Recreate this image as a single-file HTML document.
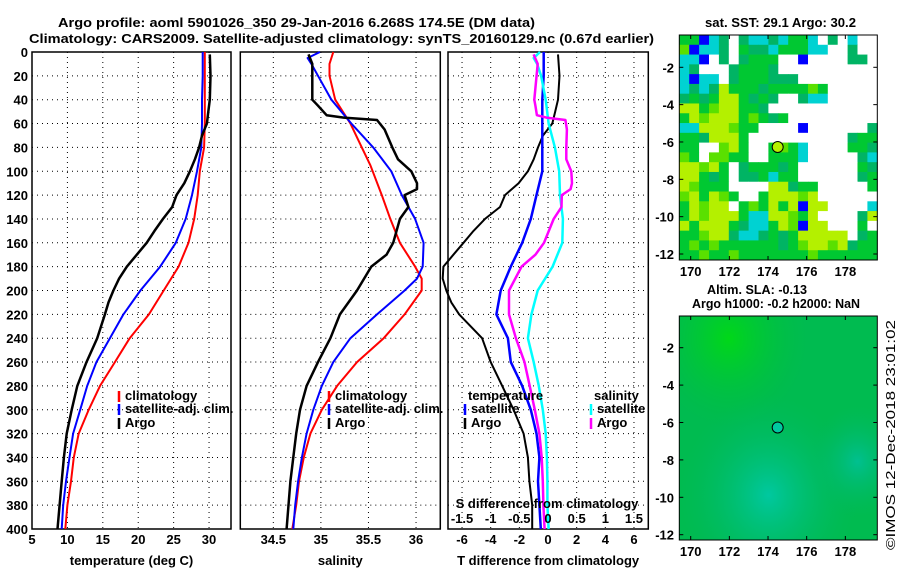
<!DOCTYPE html>
<html><head><meta charset="utf-8"><style>
html,body{margin:0;padding:0;background:#fff;}
svg{display:block;font-family:"Liberation Sans",sans-serif;}
text{font-weight:bold;font-size:13px;fill:#000;}
</style></head><body>
<svg id="chart" width="900" height="580" viewBox="0 0 900 580" xmlns="http://www.w3.org/2000/svg">
<text x="58" y="27" textLength="477" lengthAdjust="spacingAndGlyphs" font-size="15">Argo profile: aoml 5901026_350 29-Jan-2016 6.268S 174.5E (DM data)</text>
<text x="29" y="43" textLength="625" lengthAdjust="spacingAndGlyphs" font-size="15">Climatology: CARS2009. Satellite-adjusted climatology: synTS_20160129.nc (0.67d earlier)</text>
<text x="705" y="27" textLength="151" lengthAdjust="spacingAndGlyphs" font-size="13">sat. SST: 29.1 Argo: 30.2</text>
<text x="707" y="294" textLength="100" lengthAdjust="spacingAndGlyphs" font-size="12">Altim. SLA: -0.13</text>
<text x="692" y="308" textLength="168" lengthAdjust="spacingAndGlyphs" font-size="12">Argo h1000: -0.2 h2000: NaN</text>
<text transform="translate(895,550) rotate(-90)" font-size="12" textLength="230" lengthAdjust="spacingAndGlyphs" style="font-weight:normal">©IMOS 12-Dec-2018 23:01:02</text>
<g id="panels"></g>
</svg>
<script>
// ---------- DATA ----------
const tClimDepth = [0,20,40,60,80,100,120,140,160,180,200,220,240,260,280,300,320,340,360,380,400];
const tClimVal   = [29.4,29.4,29.4,29.4,29.3,28.7,28.4,27.9,27.1,25.7,23.6,21.5,18.8,16.7,14.6,13.0,11.6,10.9,10.5,10.0,9.7];
const tSatDepth  = [0,20,40,60,80,100,120,140,160,180,200,220,240,260,280,300,320,340,360,380,400];
const tSatVal    = [29.1,29.1,29.0,29.0,28.9,28.3,27.6,26.7,25.3,23.1,20.3,17.9,16.0,14.1,12.8,11.8,10.8,10.3,9.8,9.4,9.2];
const tArgoDepth = [2,20,40,50,60,70,80,90,100,110,120,130,140,150,160,170,180,190,200,210,220,240,260,280,300,320,340,360,380,400];
const tArgoVal   = [30.1,30.2,30.1,29.9,29.7,29.0,28.6,28.0,27.3,26.5,25.4,24.8,23.5,22.3,21.2,19.8,18.4,17.3,16.5,15.8,15.3,14.2,12.7,11.4,10.6,9.9,9.5,9.2,8.9,8.6];

const sClimDepth = [0,10,20,40,60,80,95,120,140,160,180,190,200,220,240,260,280,300,320,340,360,380,400];
const sClimVal   = [35.13,35.09,35.09,35.15,35.31,35.43,35.52,35.64,35.73,35.83,35.99,36.06,36.06,35.88,35.66,35.38,35.17,35.01,34.89,34.82,34.77,34.74,34.70];
const sSatDepth  = [0,5,10,20,40,60,80,100,120,140,160,180,190,200,220,240,260,280,300,320,340,360,380,400];
const sSatVal    = [34.99,34.86,34.90,34.97,35.11,35.32,35.55,35.74,35.85,35.99,36.08,36.07,36.01,35.88,35.59,35.31,35.13,35.01,34.92,34.85,34.80,34.76,34.73,34.71];
const sArgoDepth = [2,10,40,45,53,55,57,65,80,90,100,110,115,120,130,140,160,170,180,200,220,240,260,280,300,320,340,360,380,400];
const sArgoVal   = [34.87,34.91,34.91,34.97,35.06,35.24,35.59,35.67,35.75,35.81,35.95,36.01,36.01,35.88,35.92,35.83,35.76,35.69,35.53,35.38,35.20,35.10,34.97,34.85,34.78,34.74,34.71,34.68,34.66,34.64];

const depthTicks = [0,20,40,60,80,100,120,140,160,180,200,220,240,260,280,300,320,340,360,380,400];
const tempTicks = [5,10,15,20,25,30];
const salTicks = [34.5,35,35.5,36];
const tdiffTicks = [-6,-4,-2,0,2,4,6];
const sdiffTicks = [-1.5,-1,-0.5,0,0.5,1,1.5];
const mapLonTicks = [170,172,174,176,178];
const mapLatTicks = [-2,-4,-6,-8,-10,-12];
const argoLon = 174.5, argoLat = -6.268;

// SST map cells (W white, G green, D teal-green, Y yellow, L lime, C cyan, B blue)
const sstRows = [
"GGBCDWDCCDCGGCWDWCWW","LBCCDWGDDCGGGCCWWDWW","CCBWDWDGGGWWBWWWWDDW","CDWWWDGGGDWWWWWWWWWW",
"CBCCWDGGGDDDWWWWWWWW","CDCDYGGGDGGGGLGWWWWW","DGDGYYGDGDWWDCCWWWWW","YYGLYYGGDWWWWWWWWWWW",
"GYLYYYGLGDGWWWWWWWWW","CCYYYLGGWWWWBWWWWWWD","GGDYYYGWWWWWWWWWWDGG","GGWWLYGWWGLGCWWWWGGD",
"LGWLLGGWWGGGCWWWWWDC","YYLYGWDGGGDGWWWWWWGD","YYGDGWDDGCGGWWWWWWDG","YLGGGWWWWYYDGGWWWWWG",
"LYGYLGWWGYYYLYWWWWWW","GYLYYWGLGYGYBYYWWWWC","GYLYYYGCCYYLGYWWWWDY","YGYYYGDCCGYLBYYWWWGW",
"GGLYYDCCDGDGYYYYYWDG","GLGLGGGGGGDGLYYLYDGG","GGLGGLGGGGGGGLGGGGGG"];
const sstColors = {W:"#ffffff",G:"#00c832",D:"#00b464",Y:"#b4f000",L:"#5ae000",C:"#00d2d2",B:"#0000ff"};

// ---------- DRAW ----------
const NS="http://www.w3.org/2000/svg";
const root=document.getElementById('panels');
function el(tag,attrs,parent){const e=document.createElementNS(NS,tag);for(const k in attrs)e.setAttribute(k,attrs[k]);(parent||root).appendChild(e);return e;}
function txt(x,y,s,anchor,parent,size){const t=el('text',{x:x,y:y,'text-anchor':anchor||'middle','font-size':size||13},parent);t.textContent=s;return t;}
const yTop=52, yBot=529;
function yD(d){return yTop+(d/400)*(yBot-yTop);}
function interp(dArr,vArr,d){if(d<=dArr[0])return vArr[0];for(let i=1;i<dArr.length;i++){if(d<=dArr[i]){const f=(d-dArr[i-1])/(dArr[i]-dArr[i-1]);return vArr[i-1]+f*(vArr[i]-vArr[i-1]);}}return vArr[vArr.length-1];}

function panel(name,x0,x1,vmin,vmax,xticks,xlabel,ticklabels){
  const g=el('g',{});
  
  
  const xS=v=>x0+(v-vmin)/(vmax-vmin)*(x1-x0);
  depthTicks.forEach(d=>{ if(d>0&&d<400){const l=el('line',{x1:x0,x2:x1,y1:yD(d),y2:yD(d),stroke:'#000','stroke-width':1,'stroke-dasharray':'1,4'},g);
    
    }});
  xticks.forEach(v=>{const x=xS(v);
    const l=el('line',{x1:x,x2:x,y1:yTop,y2:yBot,stroke:'#000','stroke-width':1,'stroke-dasharray':'1,4'},g);
    
    
    if(ticklabels){const t=txt(x,544,String(v),'middle',g);
      
      }});
  const r=el('rect',{x:x0,y:yTop,width:x1-x0,height:yBot-yTop,fill:'none',stroke:'#000','stroke-width':1.5},g);
  
  
  const xl=txt((x0+x1)/2,565,xlabel,'middle',g);
  
  
  return {g,xS};
}
function line(g,xS,dArr,vArr,color,w,name){
  const pts=dArr.map((d,i)=>xS(vArr[i]).toFixed(1)+','+yD(d).toFixed(1)).join(' ');
  const p=el('polyline',{points:pts,fill:'none',stroke:color,'stroke-width':w,'stroke-linejoin':'round'},g);
  
  
}
function legend(g,x,y,color,label){
  el('line',{x1:x,x2:x,y1:y-9,y2:y+2,stroke:color,'stroke-width':2.5},g);
  const t=txt(x+6,y,label,'start',g,12);
  
  
}

// depth axis labels
depthTicks.forEach(d=>{const t=txt(28,yD(d)+5,String(d),'end',root);
  
  });

// Panel 1 temperature
const p1=panel('temperature-panel',32,231,5,33.1,tempTicks,'temperature (deg C)',true);
line(p1.g,p1.xS,tClimDepth,tClimVal,'#ff0000',2,'temp-climatology-line');
line(p1.g,p1.xS,tSatDepth,tSatVal,'#0000ff',2,'temp-satellite-line');
line(p1.g,p1.xS,tArgoDepth,tArgoVal,'#000000',2.5,'temp-argo-line');
legend(p1.g,119,400,'#ff0000','climatology');
legend(p1.g,119,413,'#0000ff','satellite-adj. clim.');
legend(p1.g,119,427,'#000000','Argo');

// Panel 2 salinity
const p2=panel('salinity-panel',240.3,440.3,34.153,36.255,salTicks,'salinity',true);
line(p2.g,p2.xS,sClimDepth,sClimVal,'#ff0000',2,'sal-climatology-line');
line(p2.g,p2.xS,sSatDepth,sSatVal,'#0000ff',2,'sal-satellite-line');
line(p2.g,p2.xS,sArgoDepth,sArgoVal,'#000000',2.5,'sal-argo-line');
legend(p2.g,329,400,'#ff0000','climatology');
legend(p2.g,329,413,'#0000ff','satellite-adj. clim.');
legend(p2.g,329,427,'#000000','Argo');

// Panel 3 differences
const p3=panel('difference-panel',448,648.3,-6.98,7.0,tdiffTicks,'T difference from climatology',true);
const sx=v=>p3.xS(v*4);
const tSatDiff=tSatVal.map((v,i)=>v-interp(tClimDepth,tClimVal,tSatDepth[i]));
const tArgoDiff=tArgoVal.map((v,i)=>v-interp(tClimDepth,tClimVal,tArgoDepth[i]));
const sSatDiff=sSatVal.map((v,i)=>v-interp(sClimDepth,sClimVal,sSatDepth[i]));
const sArgoDiff=sArgoVal.map((v,i)=>v-interp(sClimDepth,sClimVal,sArgoDepth[i]));
line(p3.g,p3.xS,tArgoDepth,tArgoDiff,'#000000',2,'tdiff-argo-line');
line(p3.g,p3.xS,tSatDepth,tSatDiff,'#0000ff',2.5,'tdiff-satellite-line');
line(p3.g,sx,sSatDepth,sSatDiff,'#00ffff',2.5,'sdiff-satellite-line');
line(p3.g,sx,sArgoDepth,sArgoDiff,'#ff00ff',2.5,'sdiff-argo-line');
let t=txt(468,400,'temperature','start',p3.g,12);


t=txt(594,400,'salinity','start',p3.g,12);


legend(p3.g,465,413,'#0000ff','satellite');
legend(p3.g,465,427,'#000000','Argo');
legend(p3.g,591,413,'#00ffff','satellite');
legend(p3.g,591,427,'#ff00ff','Argo');
t=txt(547,508,'S difference from climatology','middle',p3.g,12);


sdiffTicks.forEach(v=>{const tt=txt(sx(v),523,String(v),'middle',p3.g,12);
  
  });

// Maps
function mapAxes(name,top,bottom,latTop,latBot){
  const g=el('g',{});
  
  
  const x0=679.3,x1=877.3;
  const lx=v=>690.7+(v-170)*19.33;
  const ly=v=>top+(latTop-v)/(latTop-latBot)*(bottom-top);
  return {g,x0,x1,lx,ly};
}
function mapFrame(m,top,bottom){
  el('rect',{x:m.x0,y:top,width:m.x1-m.x0,height:bottom-top,fill:'none',stroke:'#000','stroke-width':1},m.g);
  mapLonTicks.forEach(v=>{const x=m.lx(v);
    el('line',{x1:x,x2:x,y1:top,y2:top+4,stroke:'#000'},m.g);
    el('line',{x1:x,x2:x,y1:bottom,y2:bottom-4,stroke:'#000'},m.g);
    const tt=txt(x,bottom+16,String(v),'middle',m.g,13);
    
    });
  mapLatTicks.forEach(v=>{const y=m.ly(v);
    el('line',{x1:m.x0,x2:m.x0+4,y1:y,y2:y,stroke:'#000'},m.g);
    el('line',{x1:m.x1,x2:m.x1-4,y1:y,y2:y,stroke:'#000'},m.g);
    const tt=txt(674,y+5,String(v),'end',m.g,13);
    
    });
}
// SST map: lat -2 at 67.3, -12 at 254
const m1top=35,m1bot=260;
const m1=mapAxes('sst-map',m1top,m1bot,-2+(67.3-m1top)/18.67,-12-(m1bot-254)/18.67);
const nR=sstRows.length,nC=sstRows[0].length;
const cw=(m1.x1-m1.x0)/nC,ch=(m1bot-m1top)/nR;
sstRows.forEach((row,r)=>{for(let c=0;c<nC;c++){
  const rc=el('rect',{x:(m1.x0+c*cw).toFixed(2),y:(m1top+r*ch).toFixed(2),width:(cw+0.4).toFixed(2),height:(ch+0.4).toFixed(2),fill:sstColors[row[c]]},m1.g);
  
  }});
mapFrame(m1,m1top,m1bot);
let ap=el('circle',{cx:m1.lx(argoLon),cy:m1.ly(argoLat),r:5.5,fill:'#b4f000',stroke:'#000','stroke-width':1},m1.g);



// SLA map: lat -2 at 347.7, -12 at 534.7
const m2top=316,m2bot=540;
const m2=mapAxes('sla-map',m2top,m2bot,-2+(347.7-m2top)/18.7,-12-(m2bot-534.7)/18.7);
const defs=el('defs',{});
const rg1=el('radialGradient',{id:'teal',cx:'0.45',cy:'0.8',r:'0.45'},defs);
el('stop',{offset:'0','stop-color':'#00c8a0'},rg1);el('stop',{offset:'1','stop-color':'#00b860','stop-opacity':'0'},rg1);
const rg2=el('radialGradient',{id:'bright',cx:'0.25',cy:'0.1',r:'0.4'},defs);
el('stop',{offset:'0','stop-color':'#00d818'},rg2);el('stop',{offset:'1','stop-color':'#00c040','stop-opacity':'0'},rg2);
const rg3=el('radialGradient',{id:'teal2',cx:'0.9',cy:'0.65',r:'0.25'},defs);
el('stop',{offset:'0','stop-color':'#00c090'},rg3);el('stop',{offset:'1','stop-color':'#00b860','stop-opacity':'0'},rg3);
let bg=el('rect',{x:m2.x0,y:m2top,width:m2.x1-m2.x0,height:m2bot-m2top,fill:'#00bb50'},m2.g);


el('rect',{x:m2.x0,y:m2top,width:m2.x1-m2.x0,height:m2bot-m2top,fill:'url(#bright)'},m2.g);
el('rect',{x:m2.x0,y:m2top,width:m2.x1-m2.x0,height:m2bot-m2top,fill:'url(#teal)'},m2.g);
el('rect',{x:m2.x0,y:m2top,width:m2.x1-m2.x0,height:m2bot-m2top,fill:'url(#teal2)'},m2.g);
mapFrame(m2,m2top,m2bot);
ap=el('circle',{cx:m2.lx(argoLon),cy:m2.ly(argoLat),r:5.5,fill:'#00c8a0',stroke:'#000','stroke-width':1},m2.g);


</script>
</body></html>
